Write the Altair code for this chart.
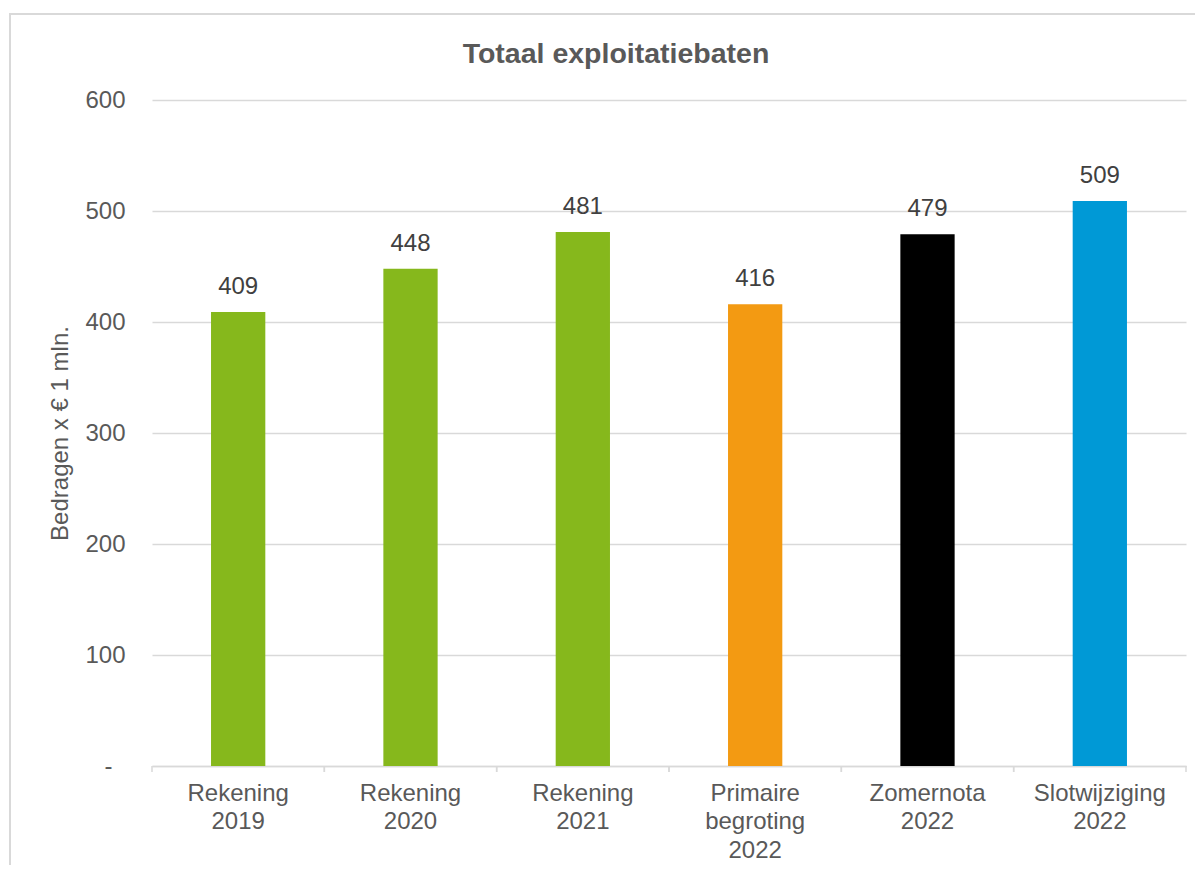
import altair as alt
import pandas as pd

categories = ["Rekening 2019", "Rekening 2020", "Rekening 2021",
              "Primaire begroting 2022", "Zomernota 2022", "Slotwijziging 2022"]
labels = [["Rekening", "2019"], ["Rekening", "2020"], ["Rekening", "2021"],
          ["Primaire", "begroting", "2022"], ["Zomernota", "2022"], ["Slotwijziging", "2022"]]
values = [409, 448, 481, 416, 479, 509]
colors = ["#86B81C", "#86B81C", "#86B81C", "#F39A12", "#000000", "#0099D6"]
y_ticks = [0, 100, 200, 300, 400, 500, 600]

df = pd.DataFrame({"cat": categories, "value": values, "color": colors})

label_expr = " : ".join(
    [f"datum.value == '{c}' ? {l!r}" for c, l in zip(categories, labels)]
) + " : datum.label"

FONT = "Liberation Sans"
GRAY = "#595959"
W, H = 1034, 666

x_scale = alt.Scale(domain=categories, paddingInner=0, paddingOuter=0)
x_enc = alt.X("cat:N", sort=categories, scale=x_scale,
              axis=alt.Axis(title=None, labelAngle=0, labelExpr=label_expr,
                            labelFont=FONT, labelFontSize=24, labelColor=GRAY,
                            labelLineHeight=28.5, labelPadding=15, labelBaseline="top",
                            ticks=False, domainColor="#D9D9D9", domainWidth=1.5,
                            labelLimit=0))

y_enc = alt.Y("value:Q", scale=alt.Scale(domain=[0, 600], nice=False),
              axis=alt.Axis(values=y_ticks, title="Bedragen x € 1 mln.",
                            labelExpr="datum.value == 0 ? '-' : datum.label",
                            labelFont=FONT, labelFontSize=24, labelColor=GRAY,
                            labelPadding={"condition": {"test": "datum.value == 0", "value": 40},
                                          "value": 27},
                            ticks=False, domain=False,
                            gridColor="#D9D9D9", gridWidth=1.5,
                            titleFont=FONT, titleFontSize=24, titleFontWeight="normal",
                            titleColor=GRAY, titlePadding=12))

bars = alt.Chart(df).mark_bar(width=alt.RelativeBandSize(0.315)).encode(
    x=x_enc, y=y_enc,
    color=alt.Color("color:N", scale=None),
)

text = alt.Chart(df).mark_text(baseline="bottom", dy=-13, font=FONT,
                               fontSize=24, color="#404040").encode(
    x=alt.X("cat:N", sort=categories), y="value:Q", text="value:Q"
)

tick0 = alt.Chart(df).mark_rule(color="#D9D9D9", strokeWidth=1.5).encode(
    x=alt.X("cat:N", sort=categories, bandPosition=0),
    y=alt.value(H), y2=alt.value(H + 6)
)
tick1 = alt.Chart(df).mark_rule(color="#D9D9D9", strokeWidth=1.5).encode(
    x=alt.X("cat:N", sort=categories, bandPosition=1),
    y=alt.value(H), y2=alt.value(H + 6)
)

border = alt.Chart(df.head(1)).mark_rect(fill=None, stroke="#D9D9D9",
                                         strokeWidth=2).encode(
    x=alt.value(-142), x2=alt.value(W + 60),
    y=alt.value(-86), y2=alt.value(H + 200)
)

chart = alt.layer(border, bars, text, tick0, tick1).properties(
    width=W, height=H,
    title=alt.TitleParams("Totaal exploitatiebaten", font=FONT, fontSize=28.5,
                          fontWeight="bold", color=GRAY, anchor="middle",
                          dx=-53, offset=-55),
    autosize=alt.AutoSizeParams(type="none"),
    padding={"left": 144, "top": 92, "right": 9, "bottom": 99},
).configure_view(stroke=None)

chart.save("out.html", embed_options={"renderer": "svg", "actions": False})
